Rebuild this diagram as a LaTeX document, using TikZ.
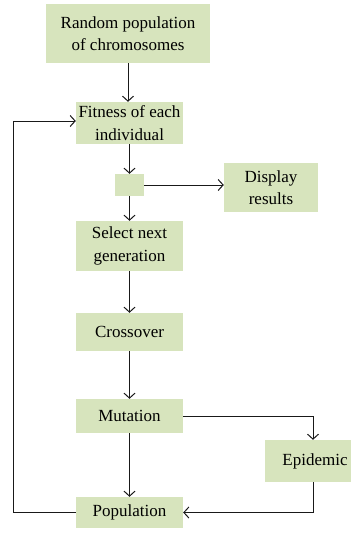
\documentclass[tikz,border=0pt]{standalone}
\usepackage{fontspec}
\setmainfont{Liberation Serif}
\usetikzlibrary{arrows.meta}
\usetikzlibrary{positioning}

\definecolor{boxgreen}{HTML}{D7E4BD}

\tikzset{
  stepbox/.style={fill=boxgreen,draw=none,inner sep=0pt,align=center,
    font=\fontsize{17}{22.5}\selectfont,text=black},
  flow/.style={draw=black!90,line width=1pt,-{Straight Barb[length=5pt,width=11pt]}}
}

\begin{document}
\begin{tikzpicture}[x=1pt,y=-1pt]
\useasboundingbox (0,0) rectangle (351,533);

\node[stepbox,minimum width=164pt,minimum height=59pt] (rand) at (128,33.5) {Random population\\of chromosomes};
\node[stepbox,minimum width=107pt,minimum height=42pt] (fit) at (129.5,123) {Fitness of each\\individual};
\node[stepbox,minimum width=29pt,minimum height=22pt] (check) at (129.5,185) {};
\node[stepbox,minimum width=94pt,minimum height=49pt] (disp) at (271,187.5) {Display\\results};
\node[stepbox,minimum width=107pt,minimum height=50pt] (sel) at (129.5,246) {Select next\\generation};
\node[stepbox,minimum width=107pt,minimum height=38pt] (cross) at (129.5,332) {Crossover};
\node[stepbox,minimum width=107pt,minimum height=34pt] (mut) at (129.5,416) {Mutation};
\node[stepbox,minimum width=86pt,minimum height=42pt] (epi) at (308,461) {\hspace*{14pt}Epidemic};
\node[stepbox,minimum width=107pt,minimum height=31pt] (pop) at (129.5,512.5) {Population};

\coordinate (loop) at (13,121);

\draw[flow] (rand.south) -- (rand.south |- fit.north);
\draw[flow] (fit.south) -- (check.north);
\draw[flow] (check.south) -- (sel.north);
\draw[flow] (check.east) -- (check.east -| disp.west);
\draw[flow] (sel.south) -- (cross.north);
\draw[flow] (cross.south) -- (mut.north);
\draw[flow] (mut.south) -- (pop.north);
\draw[flow] (mut.east) -| ([xshift=5pt]epi.north);
\draw[flow] ([xshift=5pt]epi.south) |- (pop.east);
\draw[flow] (pop.west) -- (pop.west -| loop) -- (loop) -- (loop -| fit.west);

\end{tikzpicture}
\end{document}
